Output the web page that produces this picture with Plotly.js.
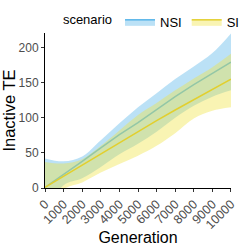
<!DOCTYPE html>
<html><head><meta charset="utf-8">
<script src="https://cdn.plot.ly/plotly-3.0.1.min.js"></script>
<style>html,body{margin:0;padding:0;background:#fff}#c{width:249px;height:249px}</style>
</head><body><div id="c"></div>
<script>
const generation = [0,1000,2000,3000,4000,5000,6000,7000,8000,9000,10000];
const nsiMean  = [1,19,38,57,76,93,112,130,147,163,179];
const nsiUpper = [42,38,45,68,92,115,135,155,173,192,220];
const nsiLower = [-40,4,14,30,48,63,80,100,117,130,139];
const siMean   = [1,17,33,49,65,80,96,111,126,141,155];
const siUpper  = [37,35,41,60,82,104,121,139,156,172,191];
const siLower  = [-40,-2,8,22,34,46,60,78,99,110,115];
const tickVals = [0,1000,2000,3000,4000,5000,6000,7000,8000,9000,10000];
const yTicks = [0,50,100,150,200];

const blue = '#56B4E9', blueFill = 'rgba(86,180,233,0.4)';
const yel = '#E2CF2E', yelFill = 'rgba(240,228,66,0.4)';

const data = [
  {x:generation,y:nsiLower,mode:'lines',line:{width:0,shape:'spline'},showlegend:false,hoverinfo:'skip'},
  {x:generation,y:nsiUpper,mode:'lines',line:{width:0,shape:'spline'},fill:'tonexty',fillcolor:blueFill,showlegend:false},
  {x:generation,y:nsiMean,mode:'lines',line:{color:blue,width:1.5},showlegend:false},
  {x:generation,y:siLower,mode:'lines',line:{width:0,shape:'spline'},showlegend:false,hoverinfo:'skip'},
  {x:generation,y:siUpper,mode:'lines',line:{width:0,shape:'spline'},fill:'tonexty',fillcolor:yelFill,showlegend:false},
  {x:generation,y:siMean,mode:'lines',line:{color:yel,width:1.5},showlegend:false},
  {x:[null],y:[null],mode:'lines',fill:'toself',fillcolor:blueFill,line:{color:blue,width:1.5},name:'NSI'},
  {x:[null],y:[null],mode:'lines',fill:'toself',fillcolor:yelFill,line:{color:yel,width:1.5},name:'SI'}
];
const layout = {
  width:249,height:249,
  margin:{l:45,r:4,t:33,b:61},
  paper_bgcolor:'#fff',plot_bgcolor:'#fff',
  font:{family:'Liberation Sans, Arial, sans-serif',color:'#000'},
  showlegend:true,
  legend:{orientation:'h',x:0.58,xanchor:'center',y:0.975,yanchor:'bottom',traceorder:'normal',
    title:{text:'scenario',side:'left',font:{size:13,color:'#000'}},
    font:{size:13,color:'#000'},itemwidth:30,tracegroupgap:0,bgcolor:'rgba(0,0,0,0)'},
  xaxis:{range:[-1,10001],tickvals:tickVals,ticktext:tickVals.map(String),tickangle:-45,
    showgrid:false,zeroline:false,showline:true,linecolor:'#000',linewidth:1,
    ticks:'outside',ticklen:3,tickcolor:'#333',tickfont:{size:12.5,color:'#4d4d4d'},
    title:{text:'Generation',font:{size:16,color:'#000'},standoff:0}},
  yaxis:{range:[0,220.6],tickvals:yTicks,
    showgrid:false,zeroline:false,showline:true,linecolor:'#000',linewidth:1,
    ticks:'outside',ticklen:3,tickcolor:'#333',tickfont:{size:12,color:'#4d4d4d'},
    title:{text:'Inactive TE',font:{size:16.5,color:'#000'},standoff:5}}
};
Plotly.newPlot('c',data,layout,{displayModeBar:false,staticPlot:true});
</script></body></html>
